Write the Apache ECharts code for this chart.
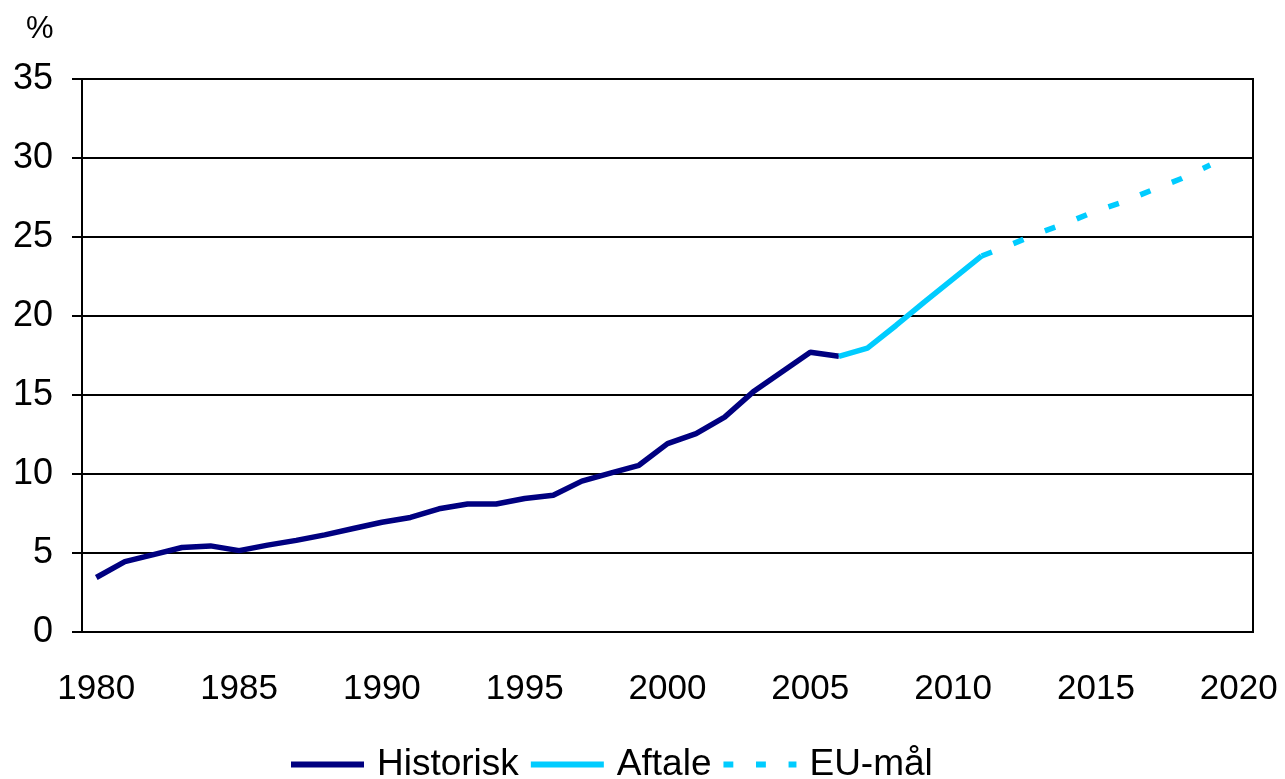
<!DOCTYPE html>
<html lang="da">
<head>
    <meta charset="UTF-8">
    <title>Vedvarende energi</title>
</head>
<style>
    body{
        margin: 0;
        padding: 0;
        background-color: #fff;
    }
    .main{
        width: 1285px;
        height: 779px;
    }
</style>
<body>
    <div class="main"></div>
</body>
<script src="https://cdn.jsdelivr.net/npm/echarts/dist/echarts.min.js"></script>
<script>
  // år på x-aksen
  var years = ['1980','1981','1982','1983','1984','1985','1986','1987','1988','1989',
               '1990','1991','1992','1993','1994','1995','1996','1997','1998','1999',
               '2000','2001','2002','2003','2004','2005','2006','2007','2008','2009',
               '2010','2011','2012','2013','2014','2015','2016','2017','2018','2019','2020'];

  // historisk 1980-2006
  var histYears = ['1980','1981','1982','1983','1984','1985','1986','1987','1988','1989',
                   '1990','1991','1992','1993','1994','1995','1996','1997','1998','1999',
                   '2000','2001','2002','2003','2004','2005','2006'];
  var histValues = [3.45, 4.45, 4.9, 5.35, 5.45, 5.15, 5.5, 5.8, 6.15, 6.55,
                    6.95, 7.25, 7.8, 8.1, 8.1, 8.45, 8.65, 9.55, 10.05, 10.55,
                    11.92, 12.55, 13.6, 15.2, 16.45, 17.7, 17.45];

  // aftale 2006-2011
  var aftaleYears = ['2006','2007','2008','2009','2010','2011'];
  var aftaleValues = [17.45, 17.97, 19.4, 20.9, 22.35, 23.8];

  // EU-mål 2011-2019
  var euYears = ['2011','2012','2013','2014','2015','2016','2017','2018','2019'];
  var euValues = [23.8, 24.5, 25.25, 25.9, 26.65, 27.25, 28.0, 28.7, 29.55];

  var yTicks = { min: 0, max: 35, step: 5 };

  function pairs(xs, vs) {
    return xs.map(function (x, i) { return [x, vs[i]]; });
  }

  var font = 'Liberation Sans, Arial, sans-serif';
  var navy = '#000080';
  var cyan = '#00CCFF';
  // stiplet ikon til legenden (tre streger)
  var dashIcon = 'path://M0,0h10v6h-10z M33,0h10v6h-10z M66,0h8v6h-8z';

  var myChart = echarts.init(document.querySelector('.main'));

  var option = {
    animation: false,
    title: {
      text: '%',
      left: 21,
      top: 9,
      textStyle: { fontFamily: font, fontSize: 31, fontWeight: 'normal', color: '#000' }
    },
    grid: {
      left: 82, right: 32, top: 79, bottom: 147,
      show: true, borderColor: '#000', borderWidth: 2, backgroundColor: 'transparent'
    },
    legend: {
      left: 286,
      bottom: -9,
      itemWidth: 73,
      itemHeight: 6,
      itemGap: 12,
      textStyle: { fontFamily: font, fontSize: 37, color: '#000', padding: [0, 0, 0, 8] },
      data: [
        { name: 'Historisk', icon: 'rect', itemStyle: { color: navy } },
        { name: 'Aftale', icon: 'rect', itemStyle: { color: cyan } },
        { name: 'EU-mål', icon: dashIcon, itemStyle: { color: cyan } }
      ]
    },
    xAxis: {
      type: 'category',
      data: years,
      boundaryGap: true,
      axisLine: { lineStyle: { color: '#000', width: 2 } },
      axisTick: { interval: 0, length: 11, lineStyle: { color: '#000', width: 2 } },
      axisLabel: { interval: 4, margin: 40, fontFamily: font, fontSize: 35, color: '#000' },
      splitLine: { show: false }
    },
    yAxis: {
      type: 'value',
      min: yTicks.min,
      max: yTicks.max,
      interval: yTicks.step,
      axisLine: { show: true, lineStyle: { color: '#000', width: 2 } },
      axisTick: { show: true, length: 10, lineStyle: { color: '#000', width: 2 } },
      axisLabel: { margin: 29, fontFamily: font, fontSize: 36, color: '#000' },
      splitLine: { lineStyle: { color: '#000', width: 2 } }
    },
    series: [
      {
        name: 'Historisk',
        type: 'line',
        data: pairs(histYears, histValues),
        symbol: 'none',
        itemStyle: { color: navy },
        lineStyle: { color: navy, width: 5.5 }
      },
      {
        name: 'Aftale',
        type: 'line',
        data: pairs(aftaleYears, aftaleValues),
        symbol: 'none',
        itemStyle: { color: cyan },
        lineStyle: { color: cyan, width: 5.5 }
      },
      {
        name: 'EU-mål',
        type: 'line',
        data: pairs(euYears, euValues),
        symbol: 'none',
        itemStyle: { color: cyan },
        lineStyle: { color: cyan, width: 5.5, type: [11, 23] }
      }
    ]
  };
  myChart.setOption(option);
</script>
</html>
